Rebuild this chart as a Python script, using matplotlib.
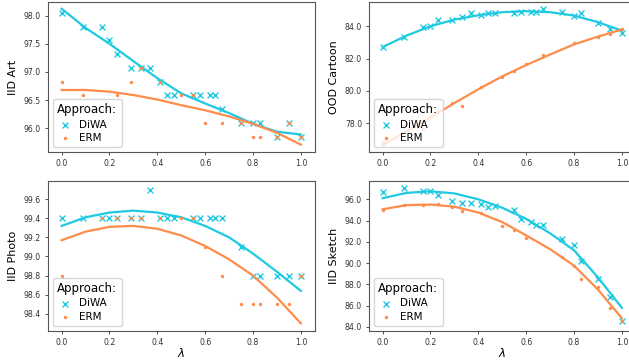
import matplotlib
matplotlib.use("Agg")
import matplotlib.pyplot as plt
from matplotlib.ticker import FormatStrFormatter

# lambda values of the individual runs
lam_diwa = [0.0, 0.09, 0.17, 0.2, 0.23, 0.29, 0.33, 0.37, 0.41, 0.44, 0.47,
            0.55, 0.58, 0.62, 0.64, 0.67, 0.75, 0.8, 0.83, 0.9, 0.95, 1.0]
# lambda grid at which the trend curves were read
lam_grid = [0.0, 0.1, 0.2, 0.3, 0.4, 0.5, 0.6, 0.7, 0.8, 0.9, 1.0]

# IID Art
art_diwa = [98.05, 97.8, 97.8, 97.56, 97.32, 97.07, 97.07, 97.07, 96.83, 96.59, 96.59,
            96.59, 96.59, 96.59, 96.59, 96.34, 96.1, 96.1, 96.1, 95.85, 96.1, 95.85]
art_lam_erm = [0.0, 0.09, 0.23, 0.29, 0.33, 0.41, 0.5, 0.55, 0.6, 0.67, 0.75, 0.8, 0.83, 0.9, 0.95, 1.0]
art_erm = [96.83, 96.59, 96.59, 96.83, 97.07, 96.83, 96.59, 96.59, 96.1, 96.1, 96.1,
           95.85, 95.85, 95.85, 96.1, 95.85]
art_fit_diwa = [98.12, 97.78, 97.5, 97.19, 96.89, 96.62, 96.44, 96.27, 96.08, 95.94, 95.89]
art_fit_erm = [96.68, 96.68, 96.65, 96.59, 96.51, 96.41, 96.32, 96.21, 96.08, 95.92, 95.71]

# OOD Cartoon
cartoon_diwa = [82.71, 83.34, 83.96, 84.04, 84.37, 84.37, 84.58, 84.79, 84.68, 84.79, 84.79,
                84.83, 84.89, 84.89, 84.89, 85.08, 84.89, 84.62, 84.79, 84.2, 83.83, 83.58]
cartoon_lam_erm = [0.0, 0.09, 0.17, 0.23, 0.29, 0.33, 0.41, 0.5, 0.55, 0.6, 0.67, 0.8, 0.9, 0.95, 1.0]
cartoon_erm = [76.84, 77.88, 77.67, 78.75, 79.27, 79.06, 80.22, 80.85, 81.26, 81.68, 82.2,
               82.96, 83.32, 83.52, 83.83]
cartoon_fit_diwa = [82.71, 83.42, 84.0, 84.41, 84.68, 84.87, 84.93, 84.87, 84.66, 84.25, 83.73]
cartoon_fit_erm = [76.63, 77.5, 78.35, 79.25, 80.1, 80.9, 81.6, 82.25, 82.88, 83.36, 83.8]

# IID Photo
photo_diwa = [99.4, 99.4, 99.4, 99.4, 99.4, 99.4, 99.4, 99.7, 99.4, 99.4, 99.4,
              99.4, 99.4, 99.4, 99.4, 99.4, 99.1, 98.8, 98.8, 98.8, 98.8, 98.8]
photo_lam_erm = [0.0, 0.17, 0.23, 0.29, 0.33, 0.41, 0.5, 0.55, 0.6, 0.67, 0.75, 0.8, 0.83, 0.9, 0.95, 1.0]
photo_erm = [98.8, 99.4, 99.4, 99.4, 99.4, 99.4, 99.4, 99.4, 99.1, 98.8, 98.5,
             98.5, 98.5, 98.5, 98.5, 98.8]
photo_fit_diwa = [99.32, 99.41, 99.46, 99.48, 99.46, 99.41, 99.32, 99.2, 99.03, 98.84, 98.64]
photo_fit_erm = [99.17, 99.26, 99.31, 99.32, 99.29, 99.22, 99.11, 98.97, 98.8, 98.57, 98.3]

# IID Sketch
sketch_diwa = [96.66, 97.03, 96.78, 96.78, 96.4, 95.88, 95.63, 95.63, 95.53, 95.25, 95.4,
               95.03, 94.16, 93.84, 93.6, 93.6, 92.25, 91.72, 90.2, 88.53, 86.78, 84.53]
sketch_lam_erm = [0.0, 0.09, 0.17, 0.23, 0.29, 0.33, 0.41, 0.5, 0.55, 0.6, 0.75, 0.8, 0.83, 0.9, 0.95, 1.0]
sketch_erm = [95.03, 95.47, 95.47, 95.56, 95.25, 94.9, 94.75, 93.5, 93.12, 92.4, 90.56,
              89.7, 88.53, 87.78, 85.78, 84.53]
sketch_fit_diwa = [96.1, 96.6, 96.75, 96.55, 96.0, 95.2, 94.15, 92.8, 91.2, 88.65, 85.78]
sketch_fit_erm = [95.06, 95.45, 95.5, 95.3, 94.75, 93.85, 92.6, 91.3, 89.75, 87.5, 84.8]

DIWA_COLOR = "#1ec9e1"
ERM_COLOR = "#fe8c4b"


def draw_panel(ax, ylabel, diwa, lam_erm, erm, fit_diwa, fit_erm, ylim, xlabel=False):
    ax.scatter(lam_diwa, diwa, marker="x", s=18, linewidths=1.0, color=DIWA_COLOR,
               label="DiWA", zorder=2)
    ax.plot(lam_grid, fit_diwa, color=DIWA_COLOR, lw=1.6, zorder=3)
    ax.scatter(lam_erm, erm, marker="o", s=6, color=ERM_COLOR, linewidths=0,
               label="ERM", zorder=4)
    ax.plot(lam_grid, fit_erm, color=ERM_COLOR, lw=1.6, zorder=5)

    ax.set_xlim(-0.057, 1.059)
    ax.set_ylim(*ylim)
    ax.set_xticks([0.0, 0.2, 0.4, 0.6, 0.8, 1.0])
    ax.xaxis.set_major_formatter(FormatStrFormatter("%.1f"))
    ax.yaxis.set_major_formatter(FormatStrFormatter("%.1f"))
    ax.tick_params(labelsize=5.6, length=2.5, width=0.6, pad=2.5, colors="#333333")
    for sp in ax.spines.values():
        sp.set_color("#555555")
        sp.set_linewidth(0.8)
    ax.set_ylabel(ylabel, fontsize=8)
    if xlabel:
        ax.set_xlabel(r"$\lambda$", fontsize=8.5, labelpad=0)
    leg = ax.legend(loc="lower left", title="Approach:", fontsize=7.5,
                    title_fontsize=8.5, borderpad=0.4, handletextpad=0.6,
                    labelspacing=0.3, handlelength=1.5)
    leg._legend_box.align = "left"


def main():
    fig = plt.figure(figsize=(6.29, 3.62), dpi=100)
    W, H = 629.0, 362.0
    aw = 267 / W
    ah = 150 / H
    ax_art = fig.add_axes([48 / W, 1 - 152 / H, aw, ah])
    ax_cartoon = fig.add_axes([369 / W, 1 - 152 / H, aw, ah])
    ax_photo = fig.add_axes([48 / W, 1 - 331 / H, aw, ah])
    ax_sketch = fig.add_axes([369 / W, 1 - 331 / H, aw, ah])

    draw_panel(ax_art, "IID Art", art_diwa, art_lam_erm, art_erm,
               art_fit_diwa, art_fit_erm, (95.58, 98.24))
    draw_panel(ax_cartoon, "OOD Cartoon", cartoon_diwa, cartoon_lam_erm, cartoon_erm,
               cartoon_fit_diwa, cartoon_fit_erm, (76.22, 85.5))
    draw_panel(ax_photo, "IID Photo", photo_diwa, photo_lam_erm, photo_erm,
               photo_fit_diwa, photo_fit_erm, (98.22, 99.79), xlabel=True)
    draw_panel(ax_sketch, "IID Sketch", sketch_diwa, sketch_lam_erm, sketch_erm,
               sketch_fit_diwa, sketch_fit_erm, (83.6, 97.72), xlabel=True)

    ax_art.set_yticks([96.0, 96.5, 97.0, 97.5, 98.0])
    ax_cartoon.set_yticks([78.0, 80.0, 82.0, 84.0])
    ax_photo.set_yticks([98.4, 98.6, 98.8, 99.0, 99.2, 99.4, 99.6])
    ax_sketch.set_yticks([84.0, 86.0, 88.0, 90.0, 92.0, 94.0, 96.0])

    fig.savefig("out.png", dpi=100)


if __name__ == "__main__":
    main()
